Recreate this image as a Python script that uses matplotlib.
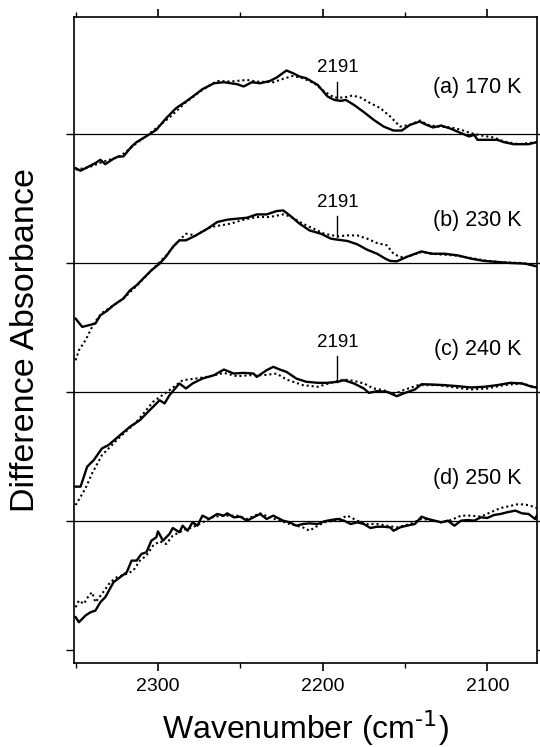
import matplotlib
matplotlib.use('Agg')
import matplotlib.pyplot as plt
from matplotlib.ticker import MultipleLocator, FixedLocator, NullFormatter

plt.rcParams['font.family'] = ['Liberation Sans', 'DejaVu Sans']

# (a) 170 K
wn_a = [2350, 2347, 2342, 2338, 2335, 2332, 2327, 2324, 2321, 2316, 2313, 2309, 2305, 2301, 2295,
        2289, 2283, 2277, 2273, 2266, 2260, 2252, 2248, 2243, 2238, 2232, 2228, 2222, 2218, 2214,
        2210, 2203, 2197, 2193, 2189, 2186, 2181, 2175, 2169, 2163, 2157, 2152, 2147, 2141, 2138,
        2133, 2128, 2122, 2116, 2111, 2108, 2106, 2098, 2094, 2090, 2084, 2075, 2070]
abs_a = [-0.264, -0.284, -0.251, -0.225, -0.199, -0.233, -0.191, -0.173, -0.173, -0.096, -0.062,
         -0.031, 0.0, 0.034, 0.124, 0.202, 0.253, 0.310, 0.349, 0.395, 0.403, 0.388, 0.370, 0.403,
         0.395, 0.413, 0.439, 0.494, 0.473, 0.447, 0.434, 0.382, 0.292, 0.266, 0.258, 0.266, 0.227,
         0.171, 0.111, 0.059, 0.028, 0.028, 0.072, 0.098, 0.078, 0.052, 0.067, 0.041, 0.008, -0.018,
         -0.005, -0.044, -0.044, -0.044, -0.062, -0.078, -0.078, -0.062]
wn_a2 = [2350, 2342, 2334, 2323, 2313, 2303, 2293, 2283, 2273, 2264, 2256, 2246, 2240, 2230, 2224,
         2218, 2212, 2205, 2199, 2193, 2187, 2182, 2177, 2171, 2165, 2159, 2153, 2147, 2141, 2136,
         2130, 2122, 2116, 2110, 2104, 2096, 2090, 2081, 2070]
abs_a2 = [-0.276, -0.258, -0.217, -0.173, -0.070, 0.026, 0.129, 0.248, 0.344, 0.413, 0.408, 0.421,
          0.408, 0.403, 0.429, 0.452, 0.434, 0.395, 0.331, 0.284, 0.284, 0.300, 0.284, 0.240, 0.202,
          0.137, 0.059, 0.072, 0.106, 0.072, 0.059, 0.052, 0.034, 0.008, -0.010, -0.026, -0.057,
          -0.078, -0.062]

# (b) 230 K
wn_b = [2350, 2346, 2342, 2338, 2335, 2331, 2327, 2321, 2317, 2313, 2309, 2304, 2299, 2295, 2291,
        2287, 2283, 2277, 2270, 2264, 2258, 2252, 2246, 2240, 2234, 2228, 2224, 2220, 2214, 2208,
        2201, 2195, 2191, 2185, 2179, 2173, 2167, 2162, 2159, 2155, 2149, 2140, 2134, 2126, 2118,
        2110, 2102, 2094, 2086, 2077, 2070]
abs_b = [-0.432, -0.496, -0.483, -0.470, -0.406, -0.372, -0.328, -0.276, -0.212, -0.173, -0.121,
         -0.057, -0.005, 0.052, 0.124, 0.176, 0.176, 0.214, 0.266, 0.318, 0.336, 0.344, 0.351, 0.377,
         0.377, 0.403, 0.408, 0.370, 0.305, 0.253, 0.227, 0.189, 0.181, 0.171, 0.145, 0.103, 0.072,
         0.034, 0.016, 0.013, 0.047, 0.090, 0.072, 0.072, 0.059, 0.034, 0.016, 0.008, 0.0, -0.005,
         -0.026]
wn_b2 = [2350, 2348, 2344, 2339, 2334, 2327, 2321, 2313, 2303, 2295, 2289, 2283, 2277, 2268, 2256,
         2248, 2240, 2232, 2224, 2220, 2212, 2199, 2191, 2185, 2179, 2173, 2167, 2161, 2157, 2153,
         2149, 2140, 2130, 2120, 2110, 2100, 2090, 2079, 2070]
abs_b2 = [-0.755, -0.677, -0.599, -0.470, -0.388, -0.328, -0.276, -0.178, -0.044, 0.059, 0.150,
          0.227, 0.214, 0.279, 0.305, 0.336, 0.357, 0.357, 0.377, 0.362, 0.305, 0.227, 0.207, 0.214,
          0.214, 0.189, 0.155, 0.137, 0.072, 0.047, 0.047, 0.085, 0.067, 0.059, 0.039, 0.016, 0.005,
          0.0, -0.026]

# (c) 240 K
wn_c = [2350, 2347, 2345, 2343, 2339, 2334, 2330, 2323, 2317, 2311, 2305, 2299, 2296, 2293, 2287,
        2283, 2279, 2273, 2266, 2260, 2254, 2248, 2242, 2240, 2234, 2230, 2226, 2222, 2216, 2210,
        2203, 2197, 2191, 2187, 2181, 2175, 2172, 2167, 2161, 2155, 2151, 2144, 2140, 2134, 2126,
        2118, 2110, 2102, 2094, 2086, 2079, 2073, 2070]
abs_c = [-0.736, -0.736, -0.659, -0.581, -0.530, -0.439, -0.413, -0.336, -0.271, -0.220, -0.142,
         -0.065, -0.090, -0.026, 0.065, 0.026, 0.065, 0.103, 0.129, 0.173, 0.142, 0.147, 0.142,
         0.116, 0.168, 0.194, 0.173, 0.155, 0.103, 0.078, 0.070, 0.070, 0.078, 0.090, 0.065, 0.026,
         -0.008, 0.005, 0.0, -0.034, -0.013, 0.018, 0.059, 0.057, 0.052, 0.044, 0.034, 0.039, 0.052,
         0.070, 0.065, 0.039, 0.034]
wn_c2 = [2350, 2344, 2340, 2334, 2323, 2313, 2303, 2293, 2285, 2277, 2268, 2260, 2252, 2244, 2236,
         2228, 2222, 2212, 2203, 2195, 2187, 2181, 2175, 2169, 2163, 2157, 2151, 2142, 2130, 2120,
         2110, 2100, 2090, 2079, 2070]
abs_c2 = [-0.879, -0.749, -0.633, -0.491, -0.349, -0.233, -0.078, 0.013, 0.090, 0.103, 0.121, 0.147,
          0.121, 0.129, 0.129, 0.142, 0.096, 0.052, 0.039, 0.070, 0.096, 0.085, 0.065, 0.026, 0.013,
          -0.018, 0.013, 0.052, 0.052, 0.034, 0.018, 0.026, 0.052, 0.065, 0.034]

# (d) 250 K
wn_d = [2350, 2348, 2344, 2341, 2338, 2335, 2332, 2327, 2323, 2319, 2316, 2313, 2310, 2307, 2304,
        2301, 2300, 2297, 2293, 2291, 2287, 2285, 2282, 2279, 2276, 2273, 2269, 2264, 2260, 2258,
        2254, 2250, 2246, 2242, 2238, 2234, 2230, 2224, 2220, 2216, 2212, 2208, 2203, 2199, 2195,
        2191, 2187, 2183, 2179, 2175, 2171, 2167, 2163, 2159, 2157, 2153, 2149, 2144, 2140, 2136,
        2132, 2128, 2124, 2120, 2116, 2112, 2108, 2104, 2100, 2096, 2092, 2088, 2083, 2079, 2075,
        2071, 2070]
abs_d = [-0.749, -0.788, -0.736, -0.711, -0.698, -0.633, -0.594, -0.478, -0.439, -0.401, -0.310,
         -0.310, -0.258, -0.245, -0.155, -0.129, -0.083, -0.155, -0.103, -0.057, -0.090, -0.039,
         -0.078, -0.013, -0.039, 0.039, 0.013, 0.052, 0.039, 0.057, 0.026, 0.031, 0.0, 0.026, 0.052,
         0.013, 0.039, 0.0, -0.013, -0.039, -0.026, -0.021, -0.026, -0.005, 0.005, 0.013, 0.0,
         -0.026, -0.013, -0.026, -0.057, -0.047, -0.047, -0.052, -0.078, -0.052, -0.039, -0.026,
         0.031, 0.013, 0.0, -0.013, 0.0, -0.039, 0.0, 0.005, 0.0, 0.026, 0.021, 0.044, 0.052, 0.065,
         0.078, 0.057, 0.052, 0.013, 0.039]
wn_d2 = [2350, 2348, 2345, 2342, 2340, 2338, 2334, 2329, 2325, 2319, 2315, 2311, 2307, 2303, 2299,
         2295, 2291, 2287, 2283, 2279, 2273, 2266, 2258, 2252, 2246, 2238, 2232, 2226, 2220, 2212,
         2208, 2203, 2199, 2191, 2185, 2179, 2173, 2167, 2161, 2155, 2147, 2140, 2134, 2128, 2122,
         2116, 2110, 2104, 2098, 2092, 2088, 2081, 2075, 2070]
abs_d2 = [-0.672, -0.620, -0.646, -0.581, -0.556, -0.633, -0.568, -0.478, -0.439, -0.413, -0.388,
          -0.310, -0.271, -0.194, -0.160, -0.181, -0.116, -0.090, -0.065, -0.052, -0.013, 0.031,
          0.039, 0.039, 0.013, 0.057, 0.026, 0.0, -0.026, -0.052, -0.078, -0.039, -0.013, 0.005,
          0.039, 0.0, -0.026, -0.026, -0.039, -0.052, -0.026, 0.013, 0.005, -0.013, 0.005, 0.039,
          0.039, 0.031, 0.065, 0.098, 0.109, 0.129, 0.121, 0.098]

panels = [
    ('(a) 170 K', wn_a, abs_a, wn_a2, abs_a2, 3, 0.36),
    ('(b) 230 K', wn_b, abs_b, wn_b2, abs_b2, 2, 0.33),
    ('(c) 240 K', wn_c, abs_c, wn_c2, abs_c2, 1, 0.33),
    ('(d) 250 K', wn_d, abs_d, wn_d2, abs_d2, 0, 0.33),
]
# marker for the 2191 band: (offset, line bottom, line top)
marks_2191 = [(3, 0.284, 0.408), (2, 0.20, 0.362), (1, 0.078, 0.277)]

fig = plt.figure(figsize=(5.4, 7.47), dpi=100)
ax = fig.add_axes([0.137, 0.1124, 0.857, 0.8648])

for label, x1, y1, x2, y2, off, ly in panels:
    ax.axhline(off, color='black', lw=0.9, zorder=1)
    ax.plot(x2, [v + off for v in y2], color='black', lw=1.5,
            linestyle=(0, (1, 1.4)), zorder=2)
    ax.plot(x1, [v + off for v in y1], color='black', lw=1.7, zorder=3)
    ax.text(2079.5, off + ly, label, ha='right', va='center', fontsize=15.5)

for off, y0, y1 in marks_2191:
    ax.plot([2191, 2191], [off + y0, off + y1], color='black', lw=1.0)
    ax.text(2191, off + y1 + 0.04, '2191', ha='center', va='bottom', fontsize=13.5)

ax.set_xlim(2351, 2070)
ax.set_ylim(-1.105, 3.909)

ax.xaxis.set_major_locator(MultipleLocator(100))
ax.xaxis.set_minor_locator(MultipleLocator(50))
ax.yaxis.set_major_locator(FixedLocator([-1, 0, 1, 2, 3]))
ax.yaxis.set_major_formatter(NullFormatter())

ax.tick_params(axis='x', which='major', direction='out', length=6, width=1.2,
               top=True, labelsize=14, pad=5)
ax.tick_params(axis='x', which='minor', direction='out', length=3.5, width=1.0, top=True)
ax.tick_params(axis='y', which='major', direction='out', length=5.5, width=1.0,
               left=True, right=True)

for s in ax.spines.values():
    s.set_linewidth(1.2)

ax.set_xlabel('Wavenumber (cm$^{\\text{-1}}$)', fontsize=23, labelpad=9)
ax.set_ylabel('Difference Absorbance', fontsize=24.5)
ax.yaxis.set_label_coords(-0.072, 0.5)

plt.savefig('out.png', dpi=100)
